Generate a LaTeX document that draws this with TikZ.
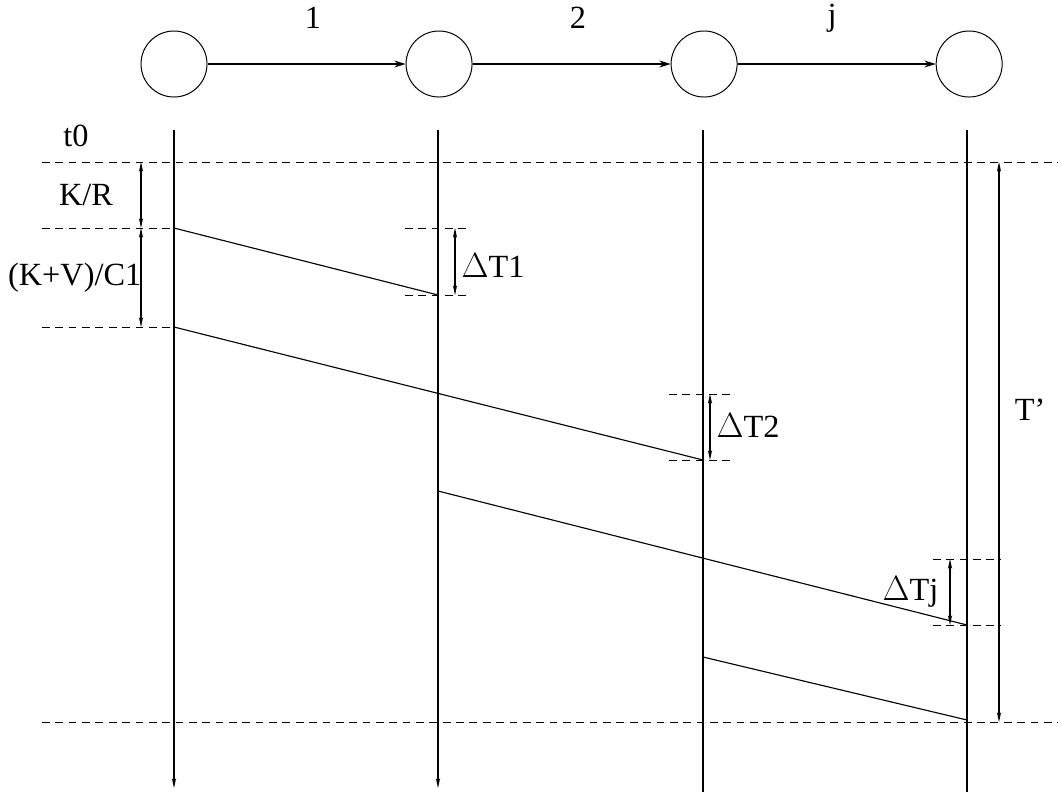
\documentclass[tikz,border=0pt]{standalone}
\usepackage{fontspec}
\setmainfont{Liberation Serif}
\usetikzlibrary{arrows.meta,positioning}

\begin{document}
\begin{tikzpicture}[
    x=0.025cm, y=-0.025cm,
    node distance=4.95cm,
    station/.style={circle, draw, line width=0.7pt, minimum size=1.65cm, inner sep=0pt},
    link/.style={line width=0.8pt, -{Stealth[length=8pt,width=5pt]}},
    timeline/.style={line width=0.8pt},
    guide/.style={line width=0.7pt, dash pattern=on 5.5pt off 4pt},
    span/.style={line width=0.8pt, {Stealth[length=7pt,width=3pt]}-{Stealth[length=7pt,width=3pt]}},
    flow/.style={line width=0.8pt},
    lbl/.style={font=\fontsize{23}{27}\selectfont, inner sep=1pt}
]
    \useasboundingbox (0,0) rectangle (1058,792);

    % stations and links
    \node [station] (s1) at (174,64) {};
    \node [station, right=of s1] (s2) {};
    \node [station, right=of s2] (s3) {};
    \node [station, right=of s3] (s4) {};
    \draw [link] (s1) -- (s2);
    \draw [link] (s2) -- (s3);
    \draw [link] (s3) -- (s4);
    \node [lbl] (l1) at (313,18) {1};
    \node [lbl] (l2) at (578,18) {2};
    \node [lbl] (lj) at (832,18) {j};

    % time axes
    \coordinate (a1) at (174,130); \coordinate (b1) at (174,788);
    \coordinate (a2) at (438,130); \coordinate (b2) at (438,788);
    \coordinate (a3) at (703,130); \coordinate (b3) at (703,792);
    \coordinate (a4) at (967,130); \coordinate (b4) at (967,792);
    \draw [timeline, -{Stealth[length=7pt,width=3pt]}] (a1) -- (b1);
    \draw [timeline, -{Stealth[length=7pt,width=3pt]}] (a2) -- (b2);
    \draw [timeline] (a3) -- (b3);
    \draw [timeline] (a4) -- (b4);

    % guide lines
    \coordinate (g0l) at (42,162);  \coordinate (g0r) at (1058,162);
    \coordinate (gel) at (42,722);  \coordinate (ger) at (1058,722);
    \coordinate (g1l) at (42,228);  \coordinate (g1r) at (174,228);
    \coordinate (g2l) at (42,327);  \coordinate (g2r) at (174,327);
    \draw [guide] (g0l) -- (g0r);
    \draw [guide] (gel) -- (ger);
    \draw [guide] (g1l) -- (g1r);
    \draw [guide] (g2l) -- (g2r);
    \coordinate (d1a) at (405,228); \coordinate (d1b) at (468,228);
    \coordinate (d1c) at (405,295); \coordinate (d1d) at (468,295);
    \coordinate (d2a) at (669,394); \coordinate (d2b) at (732,394);
    \coordinate (d2c) at (669,460); \coordinate (d2d) at (732,460);
    \coordinate (dja) at (933,559); \coordinate (djb) at (1000,559);
    \coordinate (djc) at (933,625); \coordinate (djd) at (1000,625);
    \draw [guide] (d1a) -- (d1b);
    \draw [guide] (d1c) -- (d1d);
    \draw [guide] (d2a) -- (d2b);
    \draw [guide] (d2c) -- (d2d);
    \draw [guide] (dja) -- (djb);
    \draw [guide] (djc) -- (djd);

    % packets
    \coordinate (p1a) at (174,228); \coordinate (p1b) at (438,295);
    \coordinate (p2a) at (174,327); \coordinate (p2b) at (703,460);
    \coordinate (p3a) at (438,491); \coordinate (p3b) at (967,625);
    \coordinate (p4a) at (703,657); \coordinate (p4b) at (967,720);
    \draw [flow] (p1a) -- (p1b);
    \draw [flow] (p2a) -- (p2b);
    \draw [flow] (p3a) -- (p3b);
    \draw [flow] (p4a) -- (p4b);

    % intervals
    \coordinate (k1) at (141,162); \coordinate (k2) at (141,228); \coordinate (k3) at (141,327);
    \coordinate (e1a) at (455,228); \coordinate (e1b) at (455,295);
    \coordinate (e2a) at (710,394); \coordinate (e2b) at (710,460);
    \coordinate (eja) at (950,559); \coordinate (ejb) at (950,625);
    \coordinate (ta) at (999,162);  \coordinate (tb) at (999,722);
    \draw [span] (k1) -- (k2);
    \draw [span] (k2) -- (k3);
    \draw [span] (e1a) -- (e1b);
    \draw [span] (e2a) -- (e2b);
    \draw [span] (eja) -- (ejb);
    \draw [span] (ta) -- (tb);

    \node [lbl] (t0) at (76,136) {t0};
    \node [lbl] (kr) at (86,195) {K/R};
    \node [lbl, anchor=east] (kvc) at (143,278) {(K+V)/C1};
    \node [lbl, anchor=west] (dt1) at (460,266) {$\Delta$T1};
    \node [lbl, anchor=west] (dt2) at (715,426) {$\Delta$T2};
    \node [lbl, anchor=east] (dtj) at (940,592) {$\Delta$Tj};
    \node [lbl] (tp) at (1030,410) {T'};
\end{tikzpicture}
\end{document}
